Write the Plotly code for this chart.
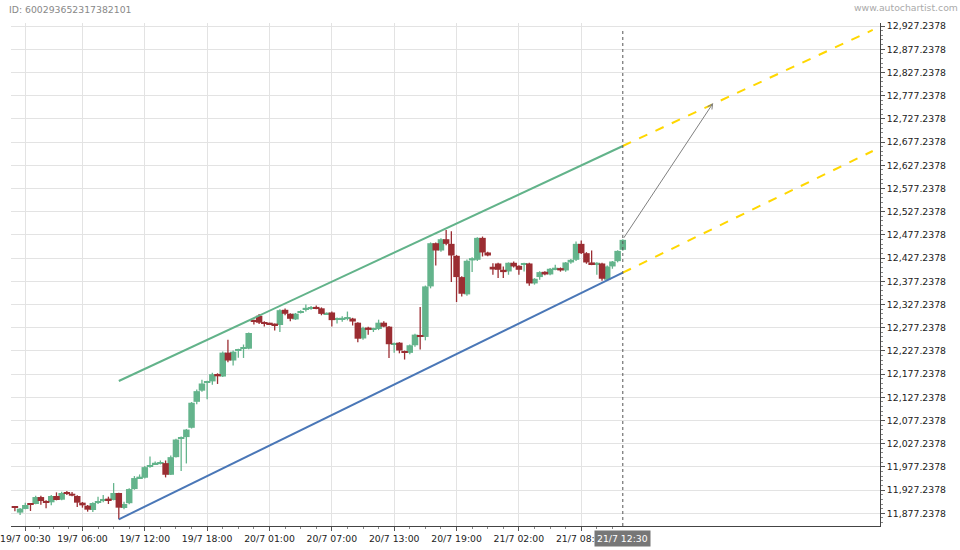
import plotly.graph_objects as go

# 30-minute candles, indexed 0..117 along the x axis
opens = [
    11890.8, 11878.7, 11886.6, 11897.3, 11897.3, 11912.3, 11903.7, 11900.9, 11914.5, 11906.6,
    11921.7, 11919.5, 11914.5, 11900.2, 11893.7, 11884.4, 11899.5, 11905.2, 11908.0, 11905.9,
    11921.0, 11888.7, 11899.0, 11929.5, 11953.2, 11953.9, 11977.5, 11983.2, 11984.0, 11985.4,
    11960.3, 11998.3, 12037.5, 12041.5, 12061.5, 12117.5, 12141.5, 12158.1, 12161.5, 12177.5,
    12172.0, 12223.5, 12206.5, 12227.4, 12232.0, 12232.0, 12292.5, 12303.0, 12289.0, 12287.0,
    12285.0, 12283.0, 12315.8, 12307.2, 12295.0, 12310.0, 12316.0, 12318.5, 12321.0, 12319.0,
    12306.5, 12310.0, 12294.5, 12295.5, 12296.5, 12297.0, 12288.0, 12254.0, 12277.5, 12273.0,
    12274.5, 12288.0, 12279.5, 12240.0, 12245.0, 12226.5, 12223.0, 12239.4, 12259.5, 12257.3,
    12366.2, 12459.3, 12443.6, 12467.9, 12457.9, 12432.1, 12386.3, 12349.0, 12422.1, 12423.5,
    12470.8, 12439.3, 12408.5, 12415.6, 12402.0, 12398.4, 12417.1, 12410.6, 12413.5, 12415.6,
    12372.6, 12386.3, 12397.7, 12392.0, 12403.5, 12405.6, 12400.6, 12417.8, 12423.5, 12457.9,
    12437.8, 12417.8, 12414.2, 12415.6, 12380.5, 12409.2, 12420.6, 12445.0,
]
highs = [
    11891.6, 11888.7, 11900.2, 11898.0, 11915.2, 11915.2, 11905.2, 11916.6, 11922.4, 11923.8,
    11925.2, 11923.1, 11915.9, 11901.6, 11895.2, 11900.9, 11913.1, 11916.6, 11913.1, 11942.4,
    11921.7, 11902.3, 11931.0, 11957.5, 11961.0, 11979.0, 11999.7, 11989.0, 11991.1, 11991.1,
    12001.9, 12037.7, 12043.0, 12059.0, 12117.0, 12144.0, 12165.0, 12163.0, 12180.0, 12179.0,
    12226.0, 12251.0, 12228.0, 12232.0, 12241.0, 12267.0, 12295.0, 12307.0, 12291.0, 12288.0,
    12286.0, 12317.0, 12318.6, 12308.5, 12309.0, 12315.0, 12327.0, 12324.0, 12325.0, 12321.0,
    12310.0, 12312.0, 12299.0, 12302.0, 12312.0, 12298.5, 12289.0, 12279.0, 12279.0, 12277.0,
    12294.5, 12291.0, 12281.0, 12245.5, 12246.0, 12228.0, 12241.0, 12264.0, 12321.8, 12368.0,
    12461.0, 12461.0, 12470.0, 12488.0, 12485.0, 12434.0, 12388.0, 12424.0, 12429.0, 12472.0,
    12473.6, 12441.0, 12416.3, 12417.0, 12409.2, 12418.0, 12419.9, 12412.0, 12417.0, 12417.0,
    12384.0, 12399.0, 12399.0, 12406.0, 12412.8, 12407.0, 12419.0, 12425.0, 12462.9, 12465.0,
    12440.0, 12443.6, 12418.0, 12417.0, 12411.0, 12421.0, 12444.0, 12468.0,
]
lows = [
    11881.5, 11873.7, 11885.8, 11882.3, 11896.6, 11895.9, 11888.0, 11894.4, 11905.2, 11905.2,
    11916.6, 11913.8, 11890.9, 11889.4, 11880.8, 11880.1, 11897.3, 11900.9, 11897.3, 11905.2,
    11864.5, 11885.8, 11896.6, 11928.0, 11951.7, 11952.5, 11975.4, 11981.8, 11982.5, 11954.6,
    11959.6, 11997.5, 11968.2, 11984.7, 12060.0, 12112.0, 12139.0, 12123.0, 12154.5, 12156.0,
    12171.0, 12202.8, 12195.6, 12212.2, 12212.0, 12231.0, 12284.0, 12285.0, 12280.0, 12283.0,
    12271.0, 12268.0, 12304.3, 12291.0, 12294.0, 12308.0, 12312.0, 12316.0, 12317.0, 12304.0,
    12305.0, 12280.0, 12286.0, 12290.0, 12293.0, 12282.0, 12246.0, 12251.0, 12262.0, 12268.0,
    12272.0, 12278.0, 12212.0, 12223.0, 12222.0, 12208.6, 12220.0, 12236.0, 12230.0, 12250.0,
    12362.0, 12411.3, 12441.0, 12455.0, 12375.5, 12332.5, 12344.7, 12346.0, 12397.0, 12421.0,
    12430.7, 12431.0, 12391.3, 12384.1, 12384.1, 12391.3, 12407.0, 12391.3, 12398.4, 12367.6,
    12370.0, 12380.5, 12390.0, 12390.0, 12401.0, 12398.0, 12398.0, 12415.0, 12421.0, 12436.0,
    12415.0, 12412.0, 12391.3, 12378.4, 12379.0, 12404.2, 12418.0, 12443.0,
]
closes = [
    11889.4, 11887.3, 11895.2, 11895.9, 11912.3, 11903.7, 11900.9, 11914.5, 11905.9, 11921.0,
    11919.5, 11915.2, 11900.2, 11894.4, 11885.1, 11899.5, 11903.7, 11908.0, 11905.9, 11921.0,
    11889.4, 11897.3, 11929.5, 11953.2, 11956.0, 11976.8, 11981.1, 11985.4, 11986.8, 11960.3,
    11998.3, 12036.3, 12040.5, 12057.7, 12115.5, 12140.5, 12157.0, 12161.0, 12177.0, 12172.5,
    12223.5, 12206.5, 12225.5, 12230.3, 12234.0, 12265.8, 12290.0, 12288.0, 12286.5, 12285.0,
    12283.0, 12315.0, 12307.2, 12296.4, 12307.5, 12313.0, 12320.0, 12321.0, 12319.0, 12307.0,
    12308.5, 12293.5, 12296.5, 12297.5, 12298.5, 12290.5, 12253.5, 12277.0, 12272.5, 12275.0,
    12288.0, 12279.5, 12241.6, 12244.0, 12228.0, 12223.0, 12239.4, 12262.3, 12257.3, 12366.2,
    12459.3, 12443.6, 12467.9, 12457.9, 12432.8, 12386.3, 12350.4, 12421.4, 12427.1, 12470.8,
    12439.3, 12432.8, 12402.7, 12402.0, 12397.0, 12417.1, 12409.2, 12402.0, 12415.6, 12372.6,
    12382.7, 12397.0, 12392.0, 12404.2, 12405.6, 12400.6, 12417.8, 12423.5, 12457.9, 12437.8,
    12417.8, 12414.2, 12416.3, 12382.7, 12409.2, 12419.9, 12442.8, 12466.5,
]
candle_idx = list(range(len(opens)))

tick_idx = [2, 13, 25, 37, 49, 61, 73, 85, 97, 109]
tick_text = ["19/7 00:30", "19/7 06:00", "19/7 12:00", "19/7 18:00", "20/7 01:00",
             "20/7 07:00", "20/7 13:00", "20/7 19:00", "21/7 02:00", "21/7 08:00"]
last_label = "21/7 12:30"

# channel and projection lines (index, price)
upper_x = [20, 117]
upper_y = [12162.3, 12668.8]
lower_x = [20, 117]
lower_y = [11864.3, 12395.8]
proj_up_x = [117, 165.1]
proj_up_y = [12668.8, 12918.8]
proj_lo_x = [117, 165.1]
proj_lo_y = [12395.8, 12658.0]
arrow_from = (117, 12467.7)
arrow_to = (134.4, 12761.5)

GREEN = "#64b48c"
RED = "#9b2d32"
CHANNEL_GREEN = "#62b38a"
BLUE = "#4a77b7"
YELLOW = "#ffd700"
FONT = "DejaVu Sans"
FSIZE = 9.3
MIN_BODY = 3.0  # smallest drawn body height, in price units

fig = go.Figure()

# candles drawn as wick lines + wide bars so bodies can touch like the original
for up, col in [(True, GREEN), (False, RED)]:
    sel = [i for i in candle_idx if (closes[i] >= opens[i]) == up]
    wx, wy = [], []
    for i in sel:
        wx += [i, i, None]
        wy += [lows[i], highs[i], None]
    fig.add_trace(go.Scatter(x=wx, y=wy, mode="lines", hoverinfo="skip",
                             line=dict(color=col, width=1.3)))
    base = [min(opens[i], closes[i]) for i in sel]
    size = [max(abs(closes[i] - opens[i]), MIN_BODY) for i in sel]
    fig.add_trace(go.Bar(x=sel, y=size, base=base, width=1.25, marker_color=col,
                         marker_line_width=0, hoverinfo="skip"))

for xs, ys, col, dash in [
    (upper_x, upper_y, CHANNEL_GREEN, "solid"),
    (lower_x, lower_y, BLUE, "solid"),
    (proj_up_x, proj_up_y, YELLOW, "dash"),
    (proj_lo_x, proj_lo_y, YELLOW, "dash"),
]:
    fig.add_trace(go.Scatter(x=xs, y=ys, mode="lines", hoverinfo="skip",
                             line=dict(color=col, width=2, dash=dash)))

fig.add_shape(type="line", x0=117, x1=117, y0=0, y1=0.985, xref="x", yref="paper",
              line=dict(color="#555555", width=1, dash="dot"))
fig.add_annotation(x=arrow_to[0], y=arrow_to[1], ax=arrow_from[0], ay=arrow_from[1],
                   xref="x", yref="y", axref="x", ayref="y", text="", showarrow=True,
                   arrowhead=5, arrowsize=1, arrowwidth=1, arrowcolor="#808080")
fig.add_annotation(x=117, y=0, xref="x", yref="paper", yanchor="top", yshift=-4,
                   text=last_label, showarrow=False, bgcolor="#777777",
                   font=dict(family=FONT, size=FSIZE, color="white"), borderpad=2)
fig.add_annotation(x=0, y=1, xref="paper", yref="paper", xanchor="left", yanchor="top",
                   xshift=-4, yshift=21, text="ID: 600293652317382101", showarrow=False,
                   font=dict(family=FONT, size=FSIZE, color="#888888"))
fig.add_annotation(x=1, y=1, xref="paper", yref="paper", xanchor="right", yanchor="top",
                   xshift=80, yshift=23, text="www.autochartist.com", showarrow=False,
                   font=dict(family=FONT, size=FSIZE, color="#aaaaaa"))

# minor ticks: each major interval split into four
minor_x = []
for a, b in zip([tick_idx[0] - 11] + tick_idx, tick_idx + [121]):
    for q in (1, 2, 3):
        v = a + (b - a) * q / 4
        if -0.7 < v < 118:
            minor_x.append(v)

fig.update_layout(
    width=960, height=550,
    margin=dict(l=11, r=80, t=23, b=24, autoexpand=False),
    paper_bgcolor="white", plot_bgcolor="white",
    barmode="overlay",
    font=dict(family=FONT, size=FSIZE, color="#222222"),
    showlegend=False,
)
fig.update_xaxes(
    range=[-0.75, 166.5], automargin=False,
    tickmode="array", tickvals=tick_idx, ticktext=tick_text, tickangle=0,
    ticklabeloverflow="allow",
    ticks="outside", ticklen=4, tickcolor="#555555",
    showgrid=True, gridcolor="#e3e3e3", gridwidth=1,
    showline=True, linecolor="#444444", linewidth=1, zeroline=False,
    minor=dict(tickmode="array", tickvals=minor_x, ticks="outside", ticklen=2,
               tickcolor="#888888", showgrid=False),
)
fig.update_yaxes(
    side="right", range=[11849.9, 12933.8], automargin=False,
    tick0=11877.2378, dtick=50, tickformat=",.4f", ticklabeloverflow="allow",
    ticks="outside", ticklen=4, tickcolor="#555555",
    showgrid=True, gridcolor="#e3e3e3", gridwidth=1,
    showline=True, linecolor="#444444", linewidth=1, zeroline=False,
    minor=dict(dtick=10, tick0=11877.2378, ticks="outside", ticklen=2,
               tickcolor="#888888", showgrid=False),
)

fig.write_html("out.html", config={"displayModeBar": False},
               post_script="document.body.style.margin='0';")
